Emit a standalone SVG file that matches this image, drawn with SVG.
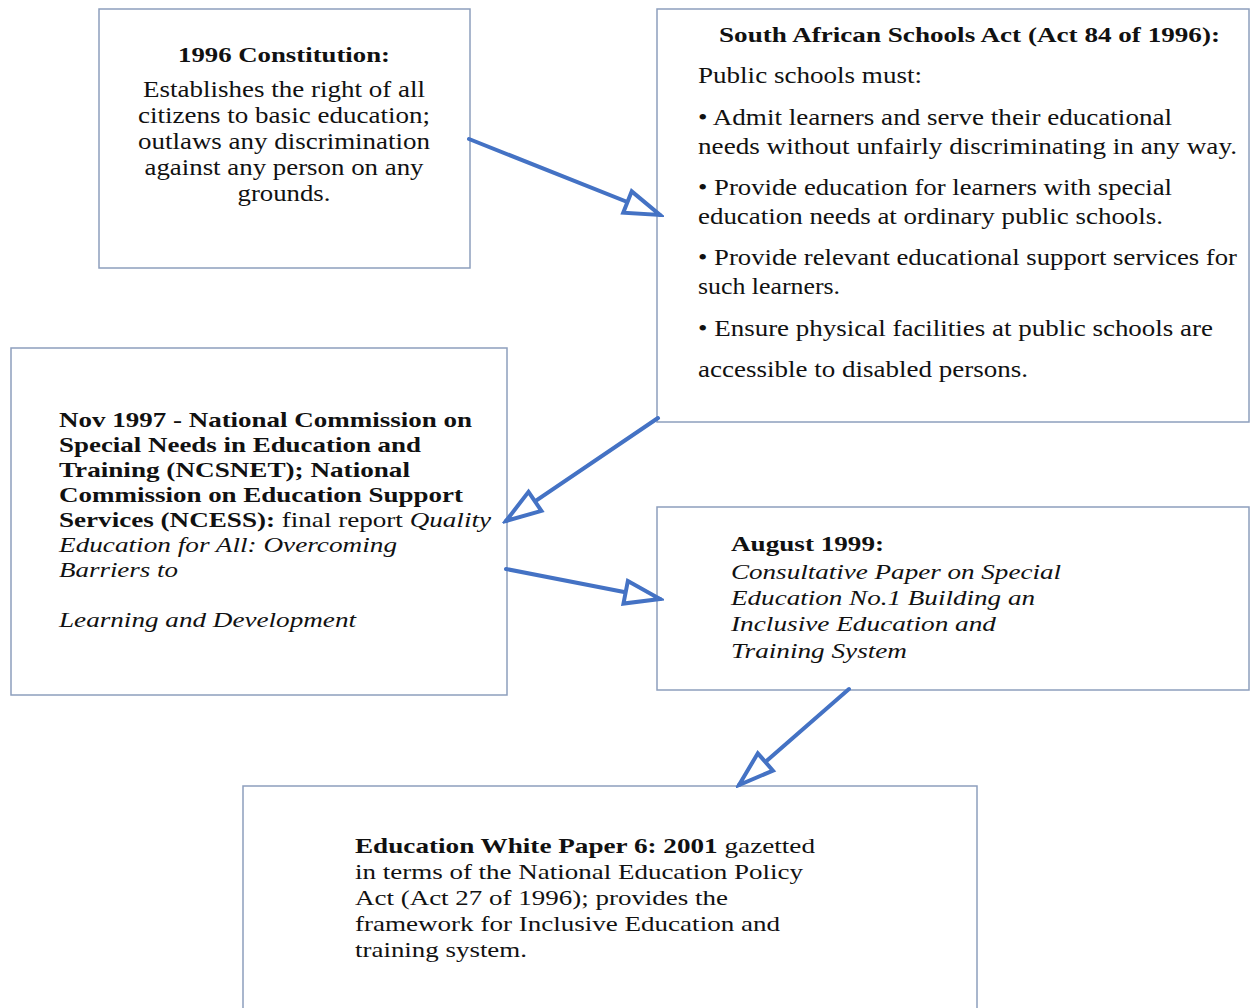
<svg xmlns="http://www.w3.org/2000/svg" width="1253" height="1008" viewBox="0 0 1253 1008">
  <style>
    .box { fill: #ffffff; stroke: #8d9fbd; stroke-width: 1.5; }
    .t { font-family: "Liberation Serif", "Times New Roman", serif; fill: #111111; font-size: 22px; }
    .l { font-size: 23px; }
    .b { font-weight: bold; }
    .i { font-style: italic; }
    .c { text-anchor: middle; }
    .link { stroke: #4472c4; stroke-width: 4; fill: none; stroke-linecap: round; }
  </style>
  <defs>
    <marker id="openHead" viewBox="0 0 42 30" refX="38" refY="15" markerWidth="42" markerHeight="30" markerUnits="userSpaceOnUse" orient="auto">
      <path d="M3,3.5 L38,15 L3,26.5 Z" fill="#ffffff" stroke="#4472c4" stroke-width="4" stroke-linejoin="miter"/>
    </marker>
  </defs>
  <rect width="1253" height="1008" fill="#ffffff"/>

  <g id="constitution">
    <rect class="box" x="99" y="9" width="371" height="259"/>
    <text class="t b c" x="284" y="62" textLength="212" lengthAdjust="spacingAndGlyphs">1996 Constitution:</text>
    <text class="t l c" x="284" y="97" textLength="282" lengthAdjust="spacingAndGlyphs">Establishes the right of all</text>
    <text class="t l c" x="284" y="123" textLength="292" lengthAdjust="spacingAndGlyphs">citizens to basic education;</text>
    <text class="t l c" x="284" y="149" textLength="292" lengthAdjust="spacingAndGlyphs">outlaws any discrimination</text>
    <text class="t l c" x="284" y="175" textLength="279" lengthAdjust="spacingAndGlyphs">against any person on any</text>
    <text class="t l c" x="284" y="201" textLength="93" lengthAdjust="spacingAndGlyphs">grounds.</text>
  </g>

  <g id="schools-act">
    <rect class="box" x="657" y="9" width="592" height="413"/>
    <text class="t b" x="719" y="42" textLength="501" lengthAdjust="spacingAndGlyphs">South African Schools Act (Act 84 of 1996):</text>
    <text class="t l" x="698" y="83" textLength="224" lengthAdjust="spacingAndGlyphs">Public schools must:</text>
    <text class="t l" x="698" y="125" textLength="474" lengthAdjust="spacingAndGlyphs">• Admit learners and serve their educational</text>
    <text class="t l" x="698" y="154" textLength="539" lengthAdjust="spacingAndGlyphs">needs without unfairly discriminating in any way.</text>
    <text class="t l" x="698" y="195" textLength="474" lengthAdjust="spacingAndGlyphs">• Provide education for learners with special</text>
    <text class="t l" x="698" y="224" textLength="465" lengthAdjust="spacingAndGlyphs">education needs at ordinary public schools.</text>
    <text class="t l" x="698" y="265" textLength="539" lengthAdjust="spacingAndGlyphs">• Provide relevant educational support services for</text>
    <text class="t l" x="698" y="294" textLength="142" lengthAdjust="spacingAndGlyphs">such learners.</text>
    <text class="t l" x="698" y="336" textLength="515" lengthAdjust="spacingAndGlyphs">• Ensure physical facilities at public schools are</text>
    <text class="t l" x="698" y="377" textLength="330" lengthAdjust="spacingAndGlyphs">accessible to disabled persons.</text>
  </g>

  <g id="ncsnet">
    <rect class="box" x="11" y="348" width="496" height="347"/>
    <text class="t b" x="59" y="427" textLength="413" lengthAdjust="spacingAndGlyphs">Nov 1997 - National Commission on</text>
    <text class="t b" x="59" y="452" textLength="362" lengthAdjust="spacingAndGlyphs">Special Needs in Education and</text>
    <text class="t b" x="59" y="477" textLength="351" lengthAdjust="spacingAndGlyphs">Training (NCSNET); National</text>
    <text class="t b" x="59" y="502" textLength="404" lengthAdjust="spacingAndGlyphs">Commission on Education Support</text>
    <text class="t" x="59" y="527" textLength="432" lengthAdjust="spacingAndGlyphs"><tspan class="b">Services (NCESS):</tspan> final report <tspan class="i">Quality</tspan></text>
    <text class="t i" x="59" y="552" textLength="338" lengthAdjust="spacingAndGlyphs">Education for All: Overcoming</text>
    <text class="t i" x="59" y="577" textLength="119" lengthAdjust="spacingAndGlyphs">Barriers to</text>
    <text class="t i" x="59" y="627" textLength="297" lengthAdjust="spacingAndGlyphs">Learning and Development</text>
  </g>

  <g id="consultative-paper">
    <rect class="box" x="657" y="507" width="592" height="183"/>
    <text class="t b" x="731" y="551" textLength="153" lengthAdjust="spacingAndGlyphs">August 1999:</text>
    <text class="t i" x="731" y="579" textLength="330" lengthAdjust="spacingAndGlyphs">Consultative Paper on Special</text>
    <text class="t i" x="731" y="605" textLength="304" lengthAdjust="spacingAndGlyphs">Education No.1 Building an</text>
    <text class="t i" x="731" y="631" textLength="265" lengthAdjust="spacingAndGlyphs">Inclusive Education and</text>
    <text class="t i" x="731" y="658" textLength="176" lengthAdjust="spacingAndGlyphs">Training System</text>
  </g>

  <g id="white-paper">
    <rect class="box" x="243" y="786" width="734" height="240"/>
    <text class="t" x="355" y="853" textLength="460" lengthAdjust="spacingAndGlyphs"><tspan class="b">Education White Paper 6: 2001</tspan> gazetted</text>
    <text class="t" x="355" y="879" textLength="448" lengthAdjust="spacingAndGlyphs">in terms of the National Education Policy</text>
    <text class="t" x="355" y="905" textLength="373" lengthAdjust="spacingAndGlyphs">Act (Act 27 of 1996); provides the</text>
    <text class="t" x="355" y="931" textLength="425" lengthAdjust="spacingAndGlyphs">framework for Inclusive Education and</text>
    <text class="t" x="355" y="957" textLength="172" lengthAdjust="spacingAndGlyphs">training system.</text>
  </g>

  <g id="connectors">
    <line class="link" x1="469" y1="139" x2="660" y2="215" marker-end="url(#openHead)"/>
    <line class="link" x1="658" y1="418" x2="506" y2="521" marker-end="url(#openHead)"/>
    <line class="link" x1="506" y1="569" x2="660" y2="599" marker-end="url(#openHead)"/>
    <line class="link" x1="849" y1="689" x2="739" y2="785" marker-end="url(#openHead)"/>
  </g>
</svg>
